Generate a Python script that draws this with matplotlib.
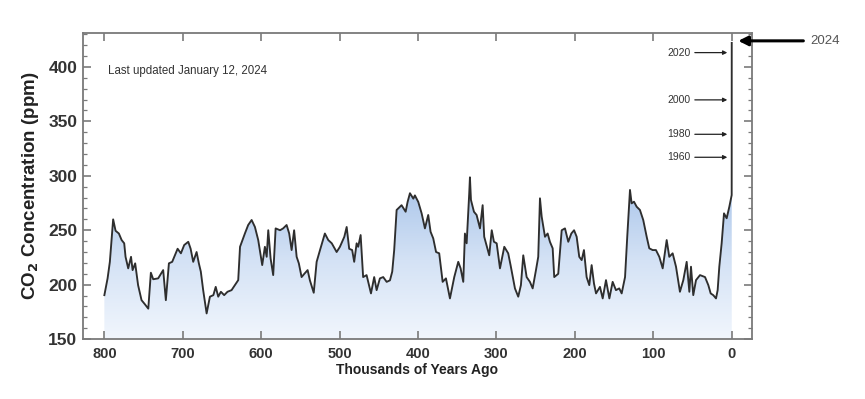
import matplotlib
matplotlib.use("Agg")
import matplotlib.pyplot as plt
import numpy as np
from matplotlib.colors import LinearSegmentedColormap

plt.rcParams['font.family'] = ['Liberation Sans', 'DejaVu Sans']

years_kya = [
    800, 795.9, 793, 788.8, 785.7, 781.5, 778, 774.7, 773, 769.6, 766, 764, 760.7, 757,
    752.6, 748.3, 744, 740.7, 737.7, 731.4, 725, 721.6, 717.7, 713.5, 710, 706.6, 702.4,
    698.2, 693, 690, 686.7, 682.4, 679.5, 677, 674, 669.6, 665.4, 661, 658, 654.8, 651.4,
    647.2, 643, 637.8, 633.6, 629.3, 627, 620.8, 616.6, 612.2, 608, 603.8, 598.7, 595.3,
    593, 591, 588, 584.7, 581.6, 576, 572, 567.6, 564.3, 561.2, 558, 554.8, 552, 548.5,
    545, 540.8, 537.9, 533, 529.3, 525, 518.8, 514.5, 510, 503.8, 499.6, 494, 491, 487.8,
    484, 481.4, 478.3, 476.3, 473.2, 470, 465.6, 460, 455.9, 452.8, 448.6, 444.4, 440,
    435.8, 432.9, 430.4, 427.3, 421, 415.8, 413.3, 410.3, 406, 404, 399.7, 395.4, 391.2,
    387, 384, 380.6, 377, 373, 368.6, 364.4, 359.3, 353.8, 348.7, 345.7, 342.3, 340.2,
    338, 334.7, 333.8, 332.5, 328.7, 325.3, 321, 317.6, 315.6, 311.7, 309.2, 306, 303.2,
    299.7, 295.5, 290, 285, 282, 276.4, 272.2, 268.8, 265.8, 261.5, 257.3, 253.8, 249.6,
    246.7, 244.5, 242.3, 238.1, 234.7, 231.8, 228.3, 226.3, 221.2, 216.8, 212.6, 208.4,
    204.5, 201, 197.7, 194.4, 191.3, 188.4, 185, 181.6, 178.6, 175.6, 173, 168, 164.5,
    160.3, 156, 151.8, 147.6, 143.4, 140.3, 136, 133.2, 129.7, 127.6, 124.6, 121.2, 117,
    112.8, 108.4, 105.1, 100.8, 96.6, 92.3, 88, 82.9, 79.6, 75.3, 71, 66, 61.7, 57.4, 54,
    51.9, 49, 45.5, 40.4, 34, 29.8, 26.8, 23.5, 20, 17.9, 15.8, 12.8, 9.8, 6.4, 3, 0,
    -0.01, -0.03, -0.05, -0.07, -0.074,
]
co2_ppm = [
    190.4, 205.8, 221, 260, 249.5, 247, 241, 238, 225.6, 215, 225.6, 213.4, 219.6, 199.6,
    185.8, 182, 178, 211, 205, 205.8, 213.4, 185.8, 219.6, 221, 227, 233, 228.8,
    236.4, 239.4, 233, 221, 230, 219.6, 212, 195, 173.6, 189, 190.4, 198, 189, 193.5,
    190.4, 193.5, 195, 199.6, 204.2, 234.8, 247, 254.8, 259.4, 253, 241, 218, 234.8,
    225.6, 250, 224, 208.8, 251.7, 250, 251.7, 254.8, 247, 231.8, 250, 225.6, 219.6, 207,
    210, 213.4, 204, 192.6, 221, 231.8, 247, 241, 238, 230, 234.8, 244, 253, 233,
    231.8, 221, 238, 234.8, 245.6, 207, 208.8, 192, 207, 195, 205.8, 207, 202.6,
    204, 212, 231.8, 268.6, 273, 267, 276, 284, 279, 282, 276, 265.5, 251.7,
    264, 248.6, 242.5, 230, 228.8, 202.6, 205.8, 187.4, 207, 221, 215, 202.6, 247,
    238, 284, 298.6, 277.8, 267, 264, 251.7, 273, 244, 233.4, 227, 250, 239.4,
    238, 215, 234.8, 228.8, 218, 196.6, 189, 199.6, 227, 207, 202.6, 196.6, 213.4,
    225.6, 279.3, 262.4, 244, 247, 239.4, 233.4, 207, 210, 250, 251.7, 239.4,
    247, 250, 244, 225.6, 222.6, 231.8, 207, 199.6, 218, 201, 192, 198, 187.4,
    204.2, 187.4, 202.6, 195, 196.6, 192, 207, 244, 287, 274.7, 276.2, 271.6, 268.6,
    259.4, 244, 233.4, 231.8, 231.8, 225.6, 215, 241, 225.6, 228.8, 216.5, 193.5, 204.2, 221, 193.5,
    216.5, 190.4, 204.2, 208.8, 207, 199.6, 192, 190.4, 187.4, 195, 216.5, 238, 265.5, 261, 271.6, 282.3,
    317, 339, 370, 414, 422,
]

x_ticks = [800, 700, 600, 500, 400, 300, 200, 100, 0]
y_ticks = [150, 200, 250, 300, 350, 400]
year_labels = ["2020", "2000", "1980", "1960"]
year_ppm = [413.1, 369.7, 338.1, 317.0]
latest_label = "2024"
latest_ppm = 423.9

x = np.array(years_kya, dtype=float)
y = np.array(co2_ppm, dtype=float)

fig = plt.figure(figsize=(8.65, 3.99), dpi=100)
ax = fig.add_axes([0.096, 0.150, 0.773, 0.767])
xmin, xmax = 827.2, -25.5
ymin, ymax = 150, 431

# gradient fill under curve
poly = ax.fill_between(x, y, ymin, color='none', lw=0)
cmap = LinearSegmentedColormap.from_list('g', ['#f1f6fd', '#d4e2f5', '#a9c5ea'])
grad = np.linspace(0, 1, 256).reshape(-1, 1)
im = ax.imshow(grad, extent=[x.max(), x.min(), ymin, 295], origin='lower',
               aspect='auto', cmap=cmap, zorder=1)
path = poly.get_paths()[0]
im.set_clip_path(path, transform=ax.transData)
ax.set_xlim(xmin, xmax)
ax.set_ylim(ymin, ymax)

ax.plot(x, y, color='#2e2e2e', lw=1.35, zorder=3)

for s in ax.spines.values():
    s.set_color('#7a7a7a')
    s.set_linewidth(1.3)

ax.set_xticks(x_ticks)
ax.set_yticks(y_ticks)
ax.set_yticks(np.arange(150, 431, 10), minor=True)
ax.tick_params(axis='both', which='major', direction='in', color='#7a7a7a',
               top=True, right=True, length=6, width=1.2)
ax.tick_params(axis='y', which='minor', direction='in', color='#7a7a7a',
               right=True, left=True, length=3, width=0.9)
ax.tick_params(axis='x', which='minor', bottom=False, top=False)
ax.tick_params(axis='y', labelsize=12.5, pad=4, labelcolor='#333333')
ax.tick_params(axis='x', labelsize=10.5, pad=6, labelcolor='#333333')
for lab in ax.get_xticklabels() + ax.get_yticklabels():
    lab.set_fontweight('bold')

ax.set_ylabel('CO$_\\mathbf{2}$ Concentration (ppm)', fontsize=13.5,
              fontweight='bold', color='#222222', labelpad=5)
ax.set_xlabel('Thousands of Years Ago', fontsize=10, fontweight='bold',
              color='#222222', labelpad=1)

ax.text(796, 396.6, 'Last updated January 12, 2024', fontsize=8.3,
        color='#333333', ha='left', va='center')

for lab, ppm in zip(year_labels, year_ppm):
    ax.annotate('', xy=(5.6, ppm), xytext=(47, ppm),
                arrowprops=dict(arrowstyle='-|>', color='#222222', lw=0.9,
                                mutation_scale=6, shrinkA=0, shrinkB=0))
    ax.text(52, ppm, lab, fontsize=7.5, color='#333333', ha='right', va='center')

ax.annotate('', xy=(-8.4, latest_ppm), xytext=(-91.4, latest_ppm),
            arrowprops=dict(arrowstyle='-|>', color='black', lw=2.2,
                            mutation_scale=14, shrinkA=0, shrinkB=0),
            annotation_clip=False)
ax.text(-100, latest_ppm, latest_label, fontsize=9.5, color='#555555',
        ha='left', va='center', clip_on=False)

fig.savefig('out.png', dpi=100)
